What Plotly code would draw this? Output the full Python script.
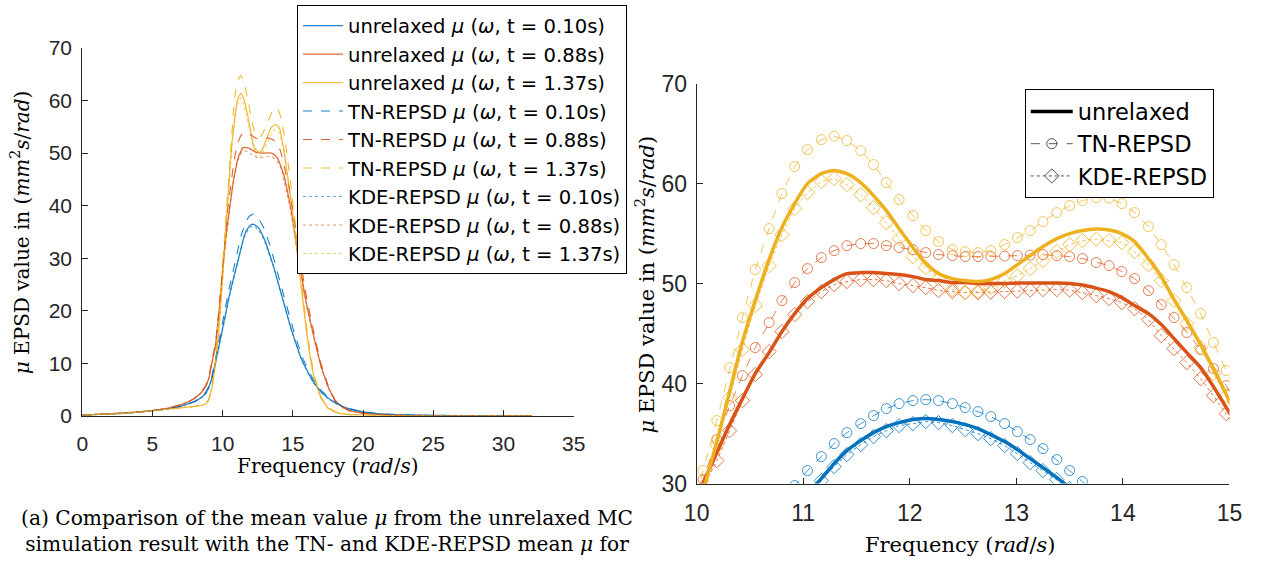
import plotly.graph_objects as go

# ---------------- data ----------------
F_LOW = [0, 1, 2, 3, 4, 5, 6, 7, 7.5, 8, 8.5, 8.8, 9.0, 9.25, 9.5, 9.75, 9.94]
F_PEAK = [10.06, 10.19, 10.31, 10.43, 10.55, 10.68, 10.80, 10.92, 11.04, 11.17,
          11.29, 11.41, 11.54, 11.66, 11.78, 11.90, 12.03, 12.15, 12.27, 12.40,
          12.52, 12.64, 12.76, 12.89, 13.01, 13.13, 13.25, 13.38, 13.50, 13.62,
          13.75, 13.87, 13.99, 14.11, 14.24, 14.36, 14.48, 14.60, 14.73, 14.85, 14.97]
F_HIGH = [15.1, 15.25, 15.5, 15.75, 16, 16.25, 16.5, 17, 17.5, 18, 18.5, 19, 20, 21,
          22, 23, 25, 27, 30, 32]

# unrelaxed, t = 0.10s / 0.88s / 1.37s
U1_LOW = [0.15, 0.25, 0.35, 0.5, 0.7, 0.95, 1.3, 1.8, 2.2, 2.7, 3.5, 4.3, 5.3, 7.3, 10.2, 13.6, 16.3]
U1_PEAK = [17.8, 19.3, 20.8, 22.3, 23.8, 25.2, 26.6, 27.9, 29.0, 30.5, 32.0, 33.3, 34.3, 35.1,
           35.7, 36.1, 36.4, 36.5, 36.4, 36.2, 35.9, 35.5, 34.9, 34.2, 33.4, 32.5, 31.6, 30.6,
           29.6, 28.5, 27.3, 26.1, 24.9, 23.7, 22.5, 21.3, 20.1, 19.0, 17.9, 16.8, 15.8]
U1_HIGH = [14.7, 13.5, 11.6, 10.0, 8.6, 7.4, 6.3, 4.6, 3.4, 2.5, 1.85, 1.35, 0.75, 0.42, 0.25,
           0.16, 0.08, 0.05, 0.03, 0.02]

U2_LOW = [0.15, 0.25, 0.4, 0.55, 0.75, 1.0, 1.4, 2.1, 2.6, 3.3, 4.5, 5.6, 7.0, 10.0, 13.5, 20.0, 26.3]
U2_PEAK = [30.0, 33.1, 35.9, 38.5, 41.0, 43.1, 45.2, 47.0, 48.5, 49.6, 50.4, 51.0, 51.1, 51.1,
           51.0, 50.9, 50.7, 50.4, 50.3, 50.1, 50.1, 50.0, 50.0, 50.0, 50.05, 50.05, 50.05, 50.05,
           50.0, 49.85, 49.55, 49.2, 48.6, 47.8, 47.0, 45.9, 44.5, 43.1, 41.6, 39.7, 37.6]
U2_HIGH = [35.4, 32.8, 28.5, 24.6, 21.0, 17.8, 15.0, 9.5, 5.6, 2.9, 1.7, 1.0, 0.5, 0.28, 0.16,
           0.1, 0.05, 0.03, 0.02, 0.02]

U3_LOW = [0.15, 0.25, 0.35, 0.5, 0.7, 0.95, 1.2, 1.5, 1.65, 1.8, 2.0, 2.3, 3.0, 5.5, 10.0, 17.0, 24.0]
U3_PEAK = [29.2, 34.2, 39.2, 44.2, 48.3, 52.4, 55.6, 58.0, 60.0, 61.0, 61.3, 61.0, 60.1, 58.8,
           57.3, 55.5, 53.6, 52.0, 51.0, 50.5, 50.3, 50.2, 50.4, 51.0, 51.9, 52.8, 53.7, 54.5,
           55.0, 55.3, 55.45, 55.35, 55.0, 54.2, 52.5, 50.7, 48.4, 46.3, 43.9, 41.5, 38.9]
U3_HIGH = [35.8, 32.2, 26.5, 20.8, 15.5, 11.0, 7.4, 3.4, 1.5, 0.75, 0.4, 0.25, 0.12, 0.07, 0.05,
           0.04, 0.03, 0.02, 0.02, 0.01]

# TN-REPSD
T1_LOW = [0.15, 0.25, 0.35, 0.5, 0.7, 0.95, 1.3, 1.8, 2.2, 2.75, 3.6, 4.5, 5.6, 7.8, 10.9, 14.6, 17.5]
T1_PEAK = [19.0, 20.6, 22.2, 23.8, 25.3, 26.8, 28.3, 29.8, 31.3, 32.7, 34.0, 35.1, 36.0, 36.8,
           37.5, 38.0, 38.3, 38.4, 38.3, 38.0, 37.6, 37.2, 36.7, 36.0, 35.2, 34.4, 33.5, 32.4,
           31.3, 30.2, 29.0, 27.8, 26.6, 25.3, 24.0, 22.8, 21.6, 20.4, 19.2, 18.0, 16.9]
T1_HIGH = [15.8, 14.5, 12.5, 10.7, 9.2, 7.9, 6.7, 4.9, 3.6, 2.6, 1.9, 1.4, 0.78, 0.44, 0.26,
           0.17, 0.09, 0.05, 0.03, 0.02]

T2_LOW = [0.15, 0.25, 0.4, 0.55, 0.75, 1.0, 1.4, 2.1, 2.6, 3.35, 4.6, 5.8, 7.3, 10.4, 14.0, 20.6, 26.8]
T2_PEAK = [30.4, 34.4, 37.8, 40.8, 43.6, 46.1, 48.3, 50.1, 51.5, 52.6, 53.3, 53.8, 54.0, 54.0,
           53.8, 53.6, 53.4, 53.1, 52.9, 52.8, 52.7, 52.7, 52.7, 52.75, 52.8, 52.85, 52.9, 52.8,
           52.7, 52.5, 52.1, 51.8, 51.2, 50.5, 49.3, 47.9, 46.6, 45.1, 43.4, 41.5, 39.8]
T2_HIGH = [37.6, 34.9, 30.3, 26.1, 22.2, 18.8, 15.8, 10.0, 5.9, 3.0, 1.8, 1.05, 0.55, 0.28, 0.16,
           0.1, 0.05, 0.03, 0.02, 0.02]

T3_LOW = [0.15, 0.25, 0.35, 0.5, 0.7, 0.95, 1.2, 1.5, 1.65, 1.8, 2.05, 2.4, 3.1, 5.8, 11.0, 18.8, 26.0]
T3_PEAK = [31.3, 36.3, 41.6, 46.6, 51.4, 55.5, 59.0, 61.7, 63.4, 64.4, 64.75, 64.3, 63.3, 61.9,
           60.1, 58.4, 56.8, 55.3, 54.2, 53.4, 53.2, 53.1, 53.3, 53.9, 54.6, 55.3, 56.2, 57.1,
           57.8, 58.3, 58.6, 58.55, 58.0, 57.1, 55.7, 53.9, 51.9, 49.6, 47.0, 44.1, 41.3]
T3_HIGH = [38.2, 34.4, 28.3, 22.2, 16.6, 11.8, 7.9, 3.6, 1.6, 0.8, 0.42, 0.26, 0.13, 0.07, 0.05,
           0.04, 0.03, 0.02, 0.02, 0.01]

# KDE-REPSD
K1_LOW = [0.15, 0.25, 0.35, 0.5, 0.7, 0.95, 1.3, 1.8, 2.2, 2.7, 3.5, 4.3, 5.2, 7.2, 10.0, 13.3, 16.0]
K1_PEAK = [17.5, 19.0, 20.5, 22.0, 23.5, 24.9, 26.3, 27.6, 28.9, 30.3, 31.7, 32.9, 33.9, 34.7,
           35.3, 35.8, 36.0, 36.2, 36.1, 35.8, 35.4, 35.0, 34.5, 33.8, 33.0, 32.1, 31.3, 30.4,
           29.5, 28.4, 27.2, 26.0, 24.8, 23.6, 22.4, 21.2, 20.0, 18.9, 17.8, 16.7, 15.7]
K1_HIGH = [14.6, 13.4, 11.5, 9.9, 8.5, 7.3, 6.2, 4.5, 3.3, 2.45, 1.8, 1.3, 0.72, 0.4, 0.24,
           0.15, 0.08, 0.05, 0.03, 0.02]

K2_LOW = [0.15, 0.25, 0.4, 0.55, 0.75, 1.0, 1.4, 2.1, 2.6, 3.3, 4.4, 5.5, 6.9, 9.8, 13.2, 19.6, 26.0]
K2_PEAK = [29.6, 32.3, 35.3, 38.3, 40.9, 43.2, 45.2, 46.9, 48.2, 49.2, 49.9, 50.2, 50.4, 50.4,
           50.3, 50.0, 49.8, 49.6, 49.3, 49.2, 49.1, 49.1, 49.15, 49.2, 49.25, 49.35, 49.4, 49.4,
           49.35, 49.1, 48.8, 48.5, 48.1, 47.5, 46.4, 44.8, 43.5, 42.1, 40.5, 38.8, 37.0]
K2_HIGH = [34.8, 32.3, 28.0, 24.2, 20.7, 17.5, 14.7, 9.3, 5.5, 2.8, 1.65, 0.98, 0.52, 0.27, 0.15,
           0.1, 0.05, 0.03, 0.02, 0.02]

K3_LOW = [0.15, 0.25, 0.35, 0.5, 0.7, 0.95, 1.2, 1.5, 1.65, 1.8, 2.0, 2.3, 2.9, 5.3, 9.7, 16.8, 23.8]
K3_PEAK = [29.6, 33.8, 38.6, 43.4, 47.8, 51.8, 54.9, 57.5, 59.1, 60.2, 60.5, 59.9, 58.9, 57.6,
           56.1, 54.5, 52.7, 51.6, 50.5, 49.4, 49.1, 49.2, 49.6, 50.3, 50.8, 51.5, 52.3, 53.2,
           53.9, 54.3, 54.45, 54.3, 54.1, 53.2, 51.9, 50.3, 48.3, 46.0, 43.6, 41.0, 38.8]
K3_HIGH = [36.2, 32.5, 26.6, 20.8, 15.4, 10.9, 7.3, 3.3, 1.45, 0.72, 0.38, 0.24, 0.12, 0.07, 0.05,
           0.04, 0.03, 0.02, 0.02, 0.01]

TIMES = ["0.10s", "0.88s", "1.37s"]
X_TICKS_LEFT = [0, 5, 10, 15, 20, 25, 30, 35]
Y_TICKS_LEFT = [0, 10, 20, 30, 40, 50, 60, 70]
X_TICKS_RIGHT = [10, 11, 12, 13, 14, 15]
Y_TICKS_RIGHT = [30, 40, 50, 60, 70]

# ---------------- styling ----------------
W, H = 1264, 565
BLUE, RED, YEL = (0, 114, 189), (217, 83, 25), (237, 177, 32)
COLS = [BLUE, RED, YEL]


def rgba(c, a):
    return f"rgba({c[0]},{c[1]},{c[2]},{a})"


SANS = "Liberation Sans"
LEGF = "DejaVu Sans"
SERIF = "DejaVu Serif"
AXC = "#262626"

F_ALL = F_LOW + F_PEAK + F_HIGH
UN = [U1_LOW + U1_PEAK + U1_HIGH, U2_LOW + U2_PEAK + U2_HIGH, U3_LOW + U3_PEAK + U3_HIGH]
TN = [T1_LOW + T1_PEAK + T1_HIGH, T2_LOW + T2_PEAK + T2_HIGH, T3_LOW + T3_PEAK + T3_HIGH]
KD = [K1_LOW + K1_PEAK + K1_HIGH, K2_LOW + K2_PEAK + K2_HIGH, K3_LOW + K3_PEAK + K3_HIGH]

fig = go.Figure()

mu = "<i>μ</i>"
om = "<i>ω</i>"
# ---- left panel ----
for i in range(3):
    fig.add_trace(go.Scatter(x=F_ALL, y=UN[i], mode="lines", xaxis="x", yaxis="y",
                             line=dict(color=rgba(COLS[i], 0.85), width=1.3),
                             name=f"unrelaxed {mu} ({om}, t = {TIMES[i]})", legend="legend"))
for i in range(3):
    fig.add_trace(go.Scatter(x=F_ALL, y=TN[i], mode="lines", xaxis="x", yaxis="y",
                             line=dict(color=rgba(COLS[i], 0.9), width=1.1, dash="dash"),
                             name=f"TN-REPSD {mu} ({om}, t = {TIMES[i]})", legend="legend"))
for i in range(3):
    fig.add_trace(go.Scatter(x=F_ALL, y=KD[i], mode="lines", xaxis="x", yaxis="y",
                             line=dict(color=rgba(COLS[i], 0.6), width=1.1, dash="dot"),
                             name=f"KDE-REPSD {mu} ({om}, t = {TIMES[i]})", legend="legend"))

# ---- right panel ----
for i in range(3):
    fig.add_trace(go.Scatter(x=F_ALL, y=TN[i], mode="lines+markers", xaxis="x2", yaxis="y2",
                             line=dict(color=rgba(COLS[i], 0.75), width=1, dash="dash"),
                             marker=dict(symbol="circle-open", size=10,
                                         line=dict(color=rgba(COLS[i], 0.75), width=1)),
                             showlegend=False))
    fig.add_trace(go.Scatter(x=F_ALL, y=KD[i], mode="lines+markers", xaxis="x2", yaxis="y2",
                             line=dict(color=rgba(COLS[i], 0.8), width=1, dash="dot"),
                             marker=dict(symbol="diamond-open", size=11,
                                         line=dict(color=rgba(COLS[i], 1), width=1)),
                             showlegend=False))
for i in range(3):
    fig.add_trace(go.Scatter(x=F_ALL, y=UN[i], mode="lines", xaxis="x2", yaxis="y2",
                             line=dict(color=rgba(COLS[i], 1), width=3.5, shape="spline",
                                       smoothing=0.6),
                             showlegend=False))

# right legend entries
fig.add_trace(go.Scatter(x=[None], y=[None], mode="lines", xaxis="x2", yaxis="y2",
                         line=dict(color="black", width=3.5), name="unrelaxed", legend="legend2"))
fig.add_trace(go.Scatter(x=[None], y=[None], mode="lines+markers", xaxis="x2", yaxis="y2",
                         line=dict(color="#555555", width=1, dash="dash"),
                         marker=dict(symbol="circle-open", size=10, line=dict(color="#333333", width=1)),
                         name="TN-REPSD", legend="legend2"))
fig.add_trace(go.Scatter(x=[None], y=[None], mode="lines+markers", xaxis="x2", yaxis="y2",
                         line=dict(color="#555555", width=1, dash="dot"),
                         marker=dict(symbol="diamond-open", size=11, line=dict(color="black", width=1)),
                         name="KDE-REPSD", legend="legend2"))


def axis_style(size):
    return dict(showgrid=False, zeroline=False, showline=True, linecolor=AXC, linewidth=1,
                ticks="inside", ticklen=6, tickcolor=AXC, tickwidth=1,
                tickfont=dict(family=SANS, size=size, color=AXC), mirror=False)


L0, L1 = 70.7, 572.4
LB, LT = 422.3, 36.7
R0, R1 = 698.0, 1242.0
RB, RT = 493.3, 74.0

fig.update_layout(
    width=W, height=H, margin=dict(l=0, r=0, t=0, b=0),
    paper_bgcolor="white", plot_bgcolor="white",
    xaxis=dict(domain=[L0 / W, L1 / W], range=[0, 35], tickvals=X_TICKS_LEFT,
               anchor="y", ticklabelstandoff=9, **axis_style(21)),
    yaxis=dict(domain=[1 - LB / H, 1 - LT / H], range=[0, 70], tickvals=Y_TICKS_LEFT,
               anchor="x", ticklabelstandoff=5, **axis_style(21)),
    xaxis2=dict(domain=[R0 / W, R1 / W], range=[10, 15], tickvals=X_TICKS_RIGHT,
                anchor="y2", ticklabelstandoff=9, **axis_style(23)),
    yaxis2=dict(domain=[1 - RB / H, 1 - RT / H], range=[30, 70], tickvals=Y_TICKS_RIGHT,
                anchor="x2", ticklabelstandoff=4, **axis_style(23)),
    legend=dict(x=290 / W, y=1 + 8 / H, xanchor="left", yanchor="top",
                bgcolor="white", bordercolor="black", borderwidth=1,
                font=dict(family=LEGF, size=19.6, color="black"), tracegroupgap=0,
                itemwidth=40),
    legend2=dict(x=1033 / W, y=1 - 80 / H, xanchor="left", yanchor="top",
                 bgcolor="white", bordercolor="black", borderwidth=1,
                 font=dict(family=LEGF, size=22.5, color="black"), tracegroupgap=0,
                 itemwidth=42),
    showlegend=True,
)

ytitle = f"{mu} EPSD value in (<i>mm</i><sup>2</sup><i>s</i>/<i>rad</i>)"
xtitle = "Frequency (<i>rad</i>/<i>s</i>)"
serif = dict(family=SERIF, size=20, color="black")
serif_r = dict(family=SERIF, size=21, color="black")
ann = [
    dict(x=8 / W, y=1 - 230 / H, text=ytitle, textangle=-90, font=serif,
         xanchor="center", yanchor="middle"),
    dict(x=645 / W, y=1 - 285 / H, text=ytitle, textangle=-90, font=serif_r,
         xanchor="center", yanchor="middle"),
    dict(x=321 / W, y=1 - 475 / H, text=xtitle, font=serif, xanchor="center", yanchor="middle"),
    dict(x=967 / W, y=1 - 543 / H, text=xtitle, font=serif_r, xanchor="center", yanchor="top"),
]
for a in ann:
    fig.add_annotation(xref="paper", yref="paper", showarrow=False, **a)

CAPTION = [f"(a) Comparison of the mean value {mu} from the unrelaxed MC",
           f"simulation result with the TN- and KDE-REPSD mean {mu} for"]
fig.add_annotation(xref="paper", yref="paper", x=321 / W, y=1 - 515 / H, xanchor="center",
                   yanchor="top", showarrow=False, align="center",
                   text="<br>".join(CAPTION), font=dict(family=SERIF, size=20.2, color="black"))

fig.write_html("out.html")
